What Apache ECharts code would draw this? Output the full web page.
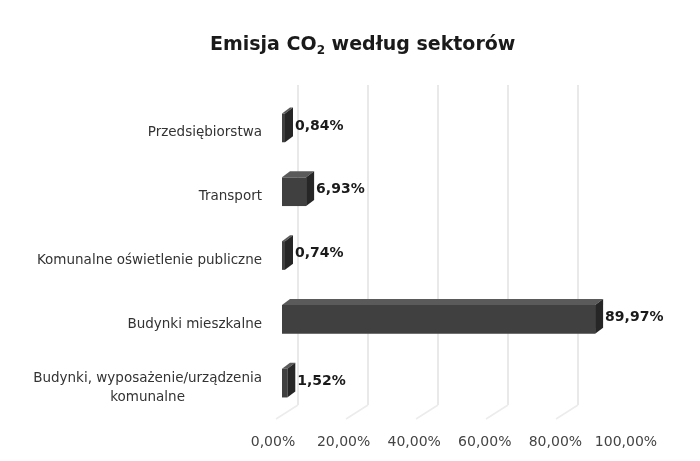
<!DOCTYPE html>
<html>
<head>
<meta charset="utf-8">
<script src="https://cdn.jsdelivr.net/npm/echarts@6/dist/echarts.min.js"></script>
<style>html,body{margin:0;padding:0;background:#fff}#c{width:700px;height:461px}</style>
</head>
<body>
<div id="c"></div>
<script>
const categories = [
  'Przedsiębiorstwa',
  'Transport',
  'Komunalne oświetlenie publiczne',
  'Budynki mieszkalne',
  'Budynki, wyposażenie/urządzenia\nkomunalne'
];
const values = [0.84, 6.93, 0.74, 89.97, 1.52];
const tickValues = [0, 20, 40, 60, 80, 100];
const gridValues = [0, 20, 40, 60, 80];

const fmt = v => v.toFixed(2).replace('.', ',') + '%';
const FONT = '"DejaVu Sans", "Liberation Sans", sans-serif';

const chart = echarts.init(document.getElementById('c'), null, {renderer: 'canvas'});

function renderItem(params, api) {
  const cat = api.value(1);
  const v = api.value(0);
  const p0 = api.coord([0, cat]);
  const p1 = api.coord([v, cat]);
  const bh = api.size([0, 1])[1] * 0.45;
  const dx = 8, dy = -6;
  const x0 = p0[0], x1 = Math.max(p1[0], p0[0] + 3);
  const yTop = p0[1] - bh / 2 - 5;
  const yBot = yTop + bh;
  return {
    type: 'group',
    children: [
      {type: 'polygon', shape: {points: [[x0, yTop], [x0 + dx, yTop + dy], [x1 + dx, yTop + dy], [x1, yTop]]},
       style: {fill: '#5a5a5a'}},
      {type: 'polygon', shape: {points: [[x1, yTop], [x1 + dx, yTop + dy], [x1 + dx, yBot + dy], [x1, yBot]]},
       style: {fill: '#262626'}},
      {type: 'rect', shape: {x: x0, y: yTop, width: x1 - x0, height: bh},
       style: {fill: '#404040'}},
      {type: 'text', x: x1 + dx + 2, y: (yTop + yBot) / 2 - 2,
       style: {text: fmt(v), fill: '#1a1a1a', font: 'bold 14px ' + FONT, align: 'left', verticalAlign: 'middle'}}
    ]
  };
}

function renderFloor(params, api) {
  const v = api.value(0);
  const p = api.coord([v, 0]);
  return {
    type: 'line',
    shape: {x1: p[0], y1: p[1], x2: p[0] - 22, y2: p[1] + 14},
    style: {stroke: '#ececec', lineWidth: 1.5}
  };
}

const option = {
  backgroundColor: '#fff',
  animation: false,
  title: {
    text: '{a|Emisja CO}{s|2}{a| według sektorów}',
    left: 205,
    top: 28,
    textStyle: {
      rich: {
        a: {fontFamily: FONT, fontWeight: 'bold', fontSize: 19, color: '#1a1a1a', lineHeight: 24},
        s: {fontFamily: FONT, fontWeight: 'bold', fontSize: 12, color: '#1a1a1a', verticalAlign: 'bottom', padding: [10, 0, 0, 0], lineHeight: 24}
      }
    }
  },
  grid: [
    {left: 282, width: 348, top: 101, bottom: 41, containLabel: false},
    {left: 298, width: 280, top: 85, bottom: 56, containLabel: false},
    {left: 273, width: 353, top: 98, bottom: 36, containLabel: false}
  ],
  xAxis: [
    {gridIndex: 0, type: 'value', min: 0, max: 100, interval: 20,
     axisLine: {show: false}, axisTick: {show: false}, axisLabel: {show: false}, splitLine: {show: false}},
    {gridIndex: 1, type: 'value', min: 0, max: 80, interval: 20,
     axisLine: {show: false}, axisTick: {show: false}, axisLabel: {show: false},
     splitLine: {show: true, lineStyle: {color: '#e2e2e2', width: 1.5}}},
    {gridIndex: 2, type: 'value', min: 0, max: 100, interval: 20,
     axisLine: {show: false}, axisTick: {show: false}, splitLine: {show: false},
     axisLabel: {show: true, margin: 10, fontFamily: FONT, fontSize: 14, color: '#444',
       formatter: v => tickValues.indexOf(v) >= 0 ? fmt(v) : ''}}
  ],
  yAxis: [
    {gridIndex: 0, type: 'category', data: categories, inverse: true,
     axisLine: {show: false}, axisTick: {show: false}, splitLine: {show: false},
     axisLabel: {margin: 20, fontFamily: FONT, fontSize: 13.5, color: '#333',
       formatter: s => s.split('\n').map(l => '{c|' + l + '}').join('\n'),
       rich: {c: {fontFamily: FONT, fontSize: 13.5, color: '#333', align: 'center', lineHeight: 19}}}},
    {gridIndex: 1, type: 'value', min: 0, max: 1, show: false},
    {gridIndex: 2, type: 'value', show: false}
  ],
  series: [
    {
      type: 'custom',
      xAxisIndex: 1, yAxisIndex: 1,
      renderItem: renderFloor,
      silent: true,
      encode: {x: 0},
      data: gridValues.map(v => [v])
    },
    {
      type: 'custom',
      xAxisIndex: 0, yAxisIndex: 0,
      renderItem: renderItem,
      encode: {x: 0, y: 1},
      data: values.map((v, i) => [v, i])
    }
  ]
};
chart.setOption(option);
</script>
</body>
</html>
